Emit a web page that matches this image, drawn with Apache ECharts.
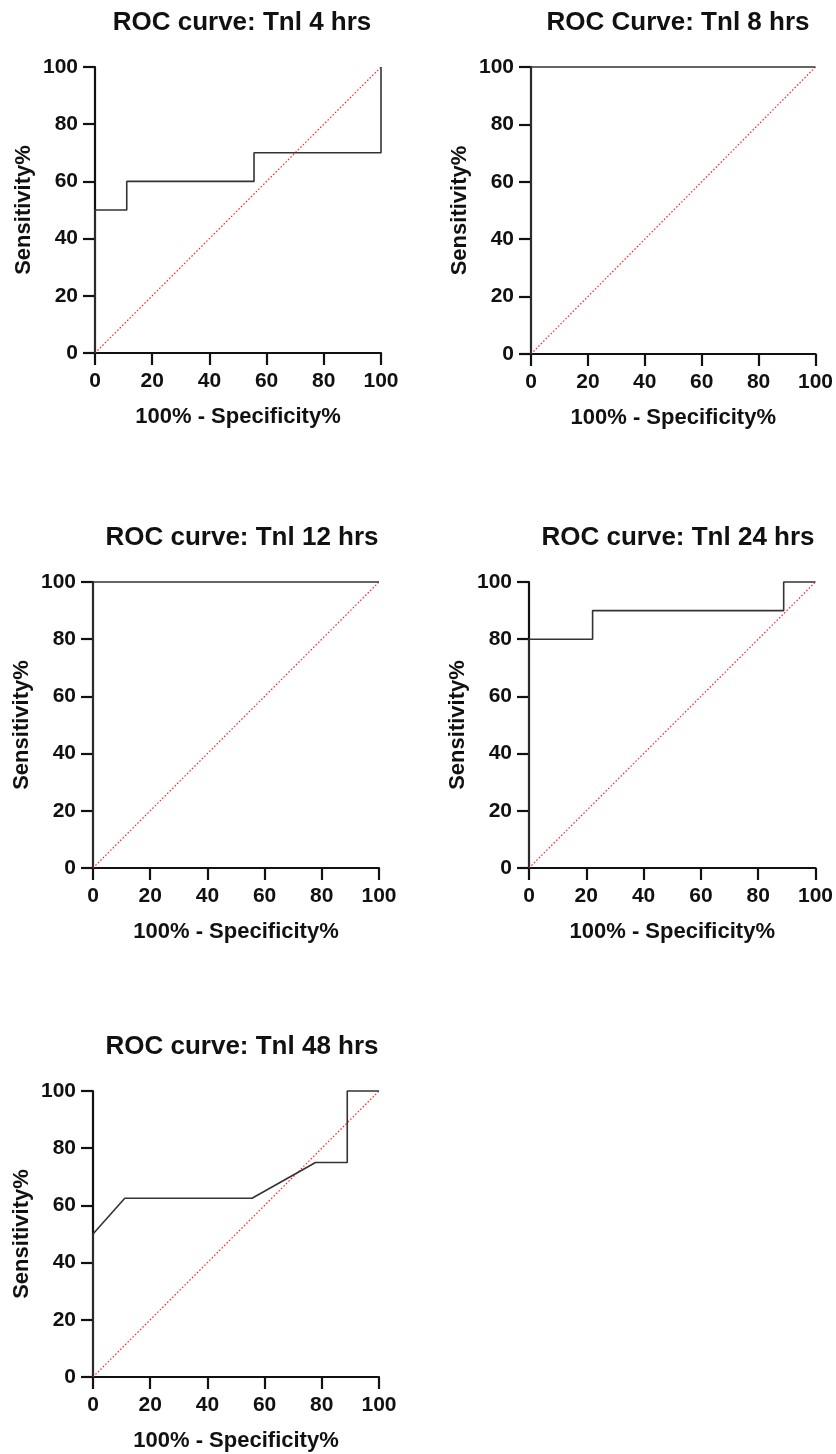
<!DOCTYPE html>
<html>
<head>
<meta charset="utf-8">
<script src="https://cdn.jsdelivr.net/npm/echarts@6/dist/echarts.min.js"></script>
<style>
html,body{margin:0;padding:0;background:#fff;}
#c{width:836px;height:1454px;}
</style>
</head>
<body>
<div id="c"></div>
<script>
// ---- data ----
const panelTitles = ['ROC curve: Tnl 4 hrs', 'ROC Curve: Tnl 8 hrs', 'ROC curve: Tnl 12 hrs', 'ROC curve: Tnl 24 hrs', 'ROC curve: Tnl 48 hrs'];
const xAxisName = '100% - Specificity%';
const yAxisName = 'Sensitivity%';
const tickValues = [0, 20, 40, 60, 80, 100];

const fpr4h  = [0, 0, 11.1, 11.1, 55.6, 55.6, 100, 100];
const sens4h = [0, 50, 50, 60, 60, 70, 70, 100];

const fpr8h  = [0, 0, 100];
const sens8h = [0, 100, 100];

const fpr12h  = [0, 0, 100];
const sens12h = [0, 100, 100];

const fpr24h  = [0, 0, 22.2, 22.2, 88.9, 88.9, 100];
const sens24h = [0, 80, 80, 90, 90, 100, 100];

const fpr48h  = [0, 0, 11.1, 55.6, 77.8, 88.9, 88.9, 100];
const sens48h = [0, 50, 62.5, 62.5, 75, 75, 100, 100];

const refX = [0, 100];
const refY = [0, 100];

// ---- layout (pixels) ----
const grids = [
  {left: 95,  top: 67,   width: 286, height: 286},
  {left: 531, top: 67,   width: 286, height: 287},
  {left: 93,  top: 582,  width: 286, height: 286},
  {left: 529, top: 582,  width: 287, height: 286},
  {left: 93,  top: 1091, width: 286, height: 286}
];
const titleCenters = [[237, 5], [673, 5], [237, 520], [673, 520], [237, 1029]];

const curves = [[fpr4h, sens4h], [fpr8h, sens8h], [fpr12h, sens12h], [fpr24h, sens24h], [fpr48h, sens48h]];

const zip = (xs, ys) => xs.map((x, i) => [x, ys[i]]);
const FONT = '"Liberation Sans", Arial, Helvetica, sans-serif';

const option = {
  backgroundColor: '#fff',
  animation: false,
  title: panelTitles.map((t, i) => ({
    text: t,
    left: titleCenters[i][0],
    top: titleCenters[i][1],
    textAlign: 'center',
    textStyle: {fontFamily: FONT, fontWeight: 'bold', fontSize: 26, color: '#111'}
  })),
  grid: grids.map(g => Object.assign({containLabel: false}, g)),
  xAxis: grids.map((g, i) => ({
    type: 'value', gridIndex: i, min: 0, max: 100, interval: 20,
    name: xAxisName, nameLocation: 'middle', nameGap: 53,
    nameTextStyle: {fontFamily: FONT, fontWeight: 'bold', fontSize: 22, color: '#111'},
    axisLine: {show: true, onZero: false, lineStyle: {color: '#111', width: 2.2}},
    axisTick: {show: true, length: 12, lineStyle: {color: '#111', width: 2.2}},
    axisLabel: {fontFamily: FONT, fontWeight: 'bold', fontSize: 21, color: '#111', margin: 18},
    splitLine: {show: false}
  })),
  yAxis: grids.map((g, i) => ({
    type: 'value', gridIndex: i, min: 0, max: 100, interval: 20,
    name: yAxisName, nameLocation: 'middle', nameGap: 60,
    nameTextStyle: {fontFamily: FONT, fontWeight: 'bold', fontSize: 22, color: '#111'},
    axisLine: {show: true, onZero: false, lineStyle: {color: '#111', width: 2.2}},
    axisTick: {show: true, length: 12, lineStyle: {color: '#111', width: 2.2}},
    axisLabel: {fontFamily: FONT, fontWeight: 'bold', fontSize: 21, color: '#111', margin: 17},
    splitLine: {show: false}
  })),
  series: []
};

curves.forEach((c, i) => {
  option.series.push({
    type: 'line', xAxisIndex: i, yAxisIndex: i,
    data: zip(refX, refY), showSymbol: false, symbol: 'none', clip: false, z: 1,
    lineStyle: {color: '#ff2020', width: 1.2, type: [1.5, 2]}
  });
  option.series.push({
    type: 'line', xAxisIndex: i, yAxisIndex: i,
    data: zip(c[0], c[1]), showSymbol: false, symbol: 'none', clip: false, z: 3,
    lineStyle: {color: '#333', width: 1.6}
  });
});

const chart = echarts.init(document.getElementById('c'), null, {renderer: 'canvas'});
chart.setOption(option);
</script>
</body>
</html>
